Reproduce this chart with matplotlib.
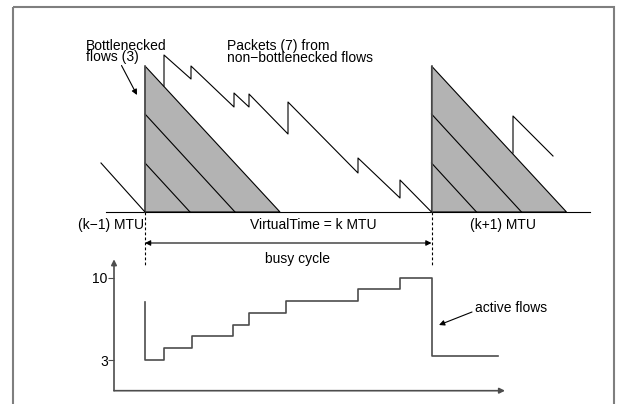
import matplotlib.pyplot as plt
from matplotlib.patches import Polygon, Rectangle

plt.rcParams['font.family'] = ['Liberation Sans', 'DejaVu Sans']

# --- diagram data (drawing units = pixels of the 622x404 canvas) ---
cycle_x = [145, 431.5]          # (k-1) MTU and k MTU instants
base_y = 212                     # virtual time axis
flow_top = [66, 114, 163]        # start heights of the 3 bottlenecked flows
flow_len = [135, 90, 45]         # how far each one runs along virtual time

# packets of the 7 non-bottlenecked flows (sawtooth)
pkt_x = [164, 164, 191, 191, 234, 234, 249, 249, 288, 288, 358, 358, 400, 400, 431.5]
pkt_y = [86, 55, 79, 66, 107, 93, 107, 94, 134, 102, 173, 158, 198, 180, 212]
prev_x = [101, 145]
prev_y = [163, 212]
next_x = [513, 513, 553]
next_y = [153, 116, 156]

# active flows during the busy cycle
step_x = [145, 145, 164, 192, 233, 249, 286, 358, 400, 431.5, 498]
step_n = [7.9, 3, 4, 5, 6, 7, 8, 9, 10, 3.37, 3.37]
yticks = [3, 10]

fig = plt.figure(figsize=(6.22, 4.04), dpi=100)
ax = fig.add_axes([0, 0, 1, 1])
ax.set_xlim(0, 622)
ax.set_ylim(404, 0)
ax.axis('off')

ax.add_patch(Rectangle((13, 7), 601, 420, fill=False, ec='#7f7f7f', lw=1.5, clip_on=False))

# virtual time axis
ax.plot([106, 590], [base_y, base_y], color='black', lw=0.8)

# bottlenecked flows, shaded triangles
for cx in cycle_x:
    tri = Polygon([(cx, flow_top[0]), (cx + flow_len[0], base_y), (cx, base_y)],
                  closed=True, fc='#b3b3b3', ec='black', lw=0.8)
    ax.add_patch(tri)
    for top, ln in zip(flow_top[1:], flow_len[1:]):
        ax.plot([cx, cx + ln], [top, base_y], color='black', lw=0.8)
    ax.plot([cx, cx], [flow_top[0], base_y], color='#555555', lw=1.2)

ax.plot(pkt_x, pkt_y, color='black', lw=0.8)
ax.plot(prev_x, prev_y, color='black', lw=0.8)
ax.plot(next_x, next_y, color='black', lw=0.8)

# dashed markers and busy cycle
for cx in cycle_x:
    ax.plot([cx, cx], [base_y, 265], color='black', lw=0.8, ls=(0, (2.5, 2)))
ax.annotate('', xy=(cycle_x[0], 243), xytext=(cycle_x[1], 243),
            arrowprops=dict(arrowstyle='<|-|>', color='black', lw=0.8,
                            mutation_scale=8, shrinkA=0, shrinkB=0))

fs = 10
ax.text(86, 50, 'Bottlenecked', fontsize=fs, va='baseline')
ax.text(86, 61.5, 'flows (3)', fontsize=fs, va='baseline')
ax.text(227, 50, 'Packets (7) from', fontsize=fs, va='baseline')
ax.text(227, 62, 'non\u2212bottlenecked flows', fontsize=fs, va='baseline')
ax.annotate('', xy=(137, 95), xytext=(121.5, 65.5),
            arrowprops=dict(arrowstyle='-|>', color='black', lw=0.8,
                            mutation_scale=8, shrinkA=0, shrinkB=0))
ax.text(78, 229, '(k\u22121) MTU', fontsize=fs, va='baseline')
ax.text(250, 229, 'VirtualTime = k MTU', fontsize=fs, va='baseline')
ax.text(470, 229, '(k+1) MTU', fontsize=fs, va='baseline')
ax.text(265, 262.5, 'busy cycle', fontsize=fs, va='baseline')
ax.text(475, 312, 'active flows', fontsize=fs, va='baseline')
ax.annotate('', xy=(439, 325), xytext=(472, 312),
            arrowprops=dict(arrowstyle='-|>', color='black', lw=0.8,
                            mutation_scale=8, shrinkA=0, shrinkB=0))

# lower plot: number of active flows
W, H = 622, 404
x0, x1, yb, yt = 114, 505, 390.7, 259.3
ax2 = fig.add_axes([x0 / W, (H - yb) / H, (x1 - x0) / W, (yb - yt) / H])
ax2.patch.set_alpha(0)
ax2.set_xlim(x0, x1)
ax2.set_ylim(0.39, 11.565)
for s in ax2.spines.values():
    s.set_visible(False)
ax2.step(step_x, step_n + [], where='post', color='#4d4d4d', lw=1.2)
ax2.set_xticks([])
ax2.set_yticks(yticks)
ax2.set_yticklabels([str(v) for v in yticks], fontsize=fs)
ax2.tick_params(axis='y', length=4.5, width=0.8, color='#4d4d4d', pad=0)
ax2.annotate('', xy=(0, 1), xytext=(0, 0), xycoords='axes fraction',
             arrowprops=dict(arrowstyle='-|>', color='#4d4d4d', lw=1.2,
                             mutation_scale=8, shrinkA=0, shrinkB=0))
ax2.annotate('', xy=(1, 0), xytext=(0, 0), xycoords='axes fraction',
             arrowprops=dict(arrowstyle='-|>', color='#4d4d4d', lw=1.2,
                             mutation_scale=8, shrinkA=0, shrinkB=0))

fig.savefig('out.png', dpi=100)
